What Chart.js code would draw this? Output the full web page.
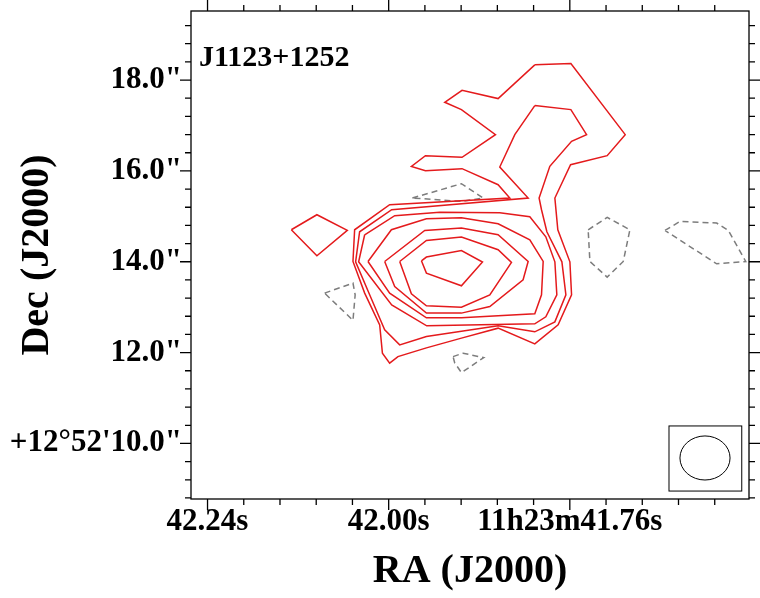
<!DOCTYPE html>
<html>
<head>
<meta charset="utf-8">
<title>J1123+1252</title>
<script src="https://cdn.jsdelivr.net/npm/chart.js@4.4.1/dist/chart.umd.min.js"></script>
<style>
  html, body { margin: 0; padding: 0; background: #fff; }
  canvas { display: block; }
</style>
</head>
<body>
<canvas id="map" width="760" height="598"></canvas>
<script>
// x = RA seconds after 11h23m, y = Dec arcsec after +12d52'
const raRange = [41.5226, 42.2619];
const decRange = [8.777, 19.52];
const raTicks = [42.24, 42.00, 41.76];
const raTickLabels = ['42.24s', '42.00s', '11h23m41.76s'];
const decTicks = [10, 12, 14, 16, 18];
const decTickLabels = ['+12°52\'10.0"', '12.0"', '14.0"', '16.0"', '18.0"'];
const raMinorStep = 0.048;
const decMinorStep = 0.4;

// positive contours (solid red), outermost first
const pos1 = [[41.8064,18.334],[41.7586,18.363],[41.6866,16.798],[41.7105,16.335],[41.7590,16.137],[41.7798,15.403],
  [41.7759,14.704],[41.7599,13.999],[41.7577,13.272],[41.7755,12.611],[41.8064,12.192],[41.8550,12.538],[41.9036,12.318],
  [41.9500,12.104],[41.9877,11.912],[41.9987,11.767],[42.0083,11.987],[42.0119,12.611],[42.0318,13.309],[42.0473,14.006],
  [42.0451,14.704],[41.9987,15.255],[41.8395,15.403],[41.8550,15.696],[41.9028,16.049],[41.9513,16.005],[41.9699,16.100],
  [41.9513,16.335],[41.9028,16.298],[41.8585,16.798],[41.9036,17.349],[41.9257,17.510],[41.9028,17.775],[41.8550,17.592]];
const pos2 = [[41.8064,17.437],[41.7586,17.349],[41.7378,16.798],[41.7577,16.651],[41.7865,16.100],[41.8007,15.403],
  [41.7975,15.145],[41.7904,14.660],[41.7705,13.999],[41.7652,13.272],[41.7798,12.677],[41.8064,12.457],[41.8550,12.589],
  [41.9500,12.353],[41.9854,12.170],[42.0053,12.500],[42.0252,13.272],[42.0438,13.999],[42.0385,14.660],[41.9960,15.145],
  [41.8152,15.403],[41.8528,16.086],[41.8329,16.798]];
const pos3 = [[42.0318,14.594],[41.9920,15.013],[41.9324,15.090],[41.8528,15.079],[41.8130,14.991],[41.7918,14.550],
  [41.7798,13.999],[41.7772,13.272],[41.7918,12.787],[41.8064,12.633],[41.9496,12.589],[41.9960,13.051],[42.0398,13.999]];
const pos4 = [[42.0274,14.006],[41.9964,14.704],[41.9500,14.947],[41.9036,14.969],[41.8550,14.837],[41.8130,14.484],
  [41.7953,14.006],[41.7975,13.272],[41.8064,12.853],[41.9036,12.765],[41.9500,12.765],[41.9987,13.309]];
const pos5 = [[42.0053,14.006],[41.9522,14.689],[41.9036,14.742],[41.8550,14.594],[41.8152,14.006],[41.8219,13.603],
  [41.8660,13.014],[41.9036,12.869],[41.9500,12.869],[41.9920,13.455]];
const pos6 = [[41.9854,14.006],[41.9500,14.469],[41.9036,14.544],[41.8550,14.264],[41.8373,13.984],[41.8660,13.272],
  [41.9036,13.001],[41.9500,13.029],[41.9699,13.294]];
const pos7 = [[41.9566,14.021],[41.9500,14.103],[41.9036,14.248],[41.8757,13.993],[41.9036,13.470],[41.9500,13.750]];
const posBlob = [[42.1290,14.704],[42.0951,15.035],[42.0548,14.689],[42.0951,14.131]];

// negative contours (dashed grey)
const neg1 = [[41.9686,15.403],[41.9036,15.718],[41.8749,15.403],[41.9036,15.328]];
const neg2 = [[42.0849,13.309],[42.0473,13.530],[42.0444,13.272],[42.0473,12.710]];
const neg3 = [[41.9147,11.912],[41.9014,11.987],[41.8740,11.890],[41.9036,11.560],[41.9125,11.773]];
const neg4 = [[41.7357,14.704],[41.7105,14.976],[41.6804,14.704],[41.6892,14.006],[41.7105,13.662],[41.7334,14.006]];
const neg5 = [[41.6339,14.689],[41.6140,14.887],[41.5654,14.852],[41.5500,14.689],[41.5269,14.006],[41.5654,13.955]];

// restoring beam: centre, half axes (RA s, Dec arcsec), and its box
const beamCenter = [41.5809, 9.680];
const beamHalfAxes = [0.0332, 0.485];
const beamBoxRa = [41.6286, 41.5322];
const beamBoxDec = [8.952, 10.385];

const sourceName = 'J1123+1252';

const serif = "'Liberation Serif', 'Times New Roman', serif";

const ring = (pts) => pts.concat([pts[0]]).map(p => ({x: p[0], y: p[1]}));

const contour = (pts, color, dash) => ({
    data: ring(pts),
    showLine: true,
    borderColor: color,
    borderWidth: 1.5,
    borderDash: dash,
    pointRadius: 0,
    fill: false,
    tension: 0
});

const red = 'rgb(228,26,28)';
const grey = 'rgb(125,125,125)';
const datasets = [pos1, pos2, pos3, pos4, pos5, pos6, pos7, posBlob].map(c => contour(c, red, []))
    .concat([neg1, neg2, neg3, neg4, neg5].map(c => contour(c, grey, [6, 4])));

// no extra room for half labels at the scale ends
const noEdgePad = (s) => {
    s.paddingTop = 0; s.paddingBottom = 0;
    s.paddingLeft = 0; s.paddingRight = 0;
};

const framePlugin = {
    id: 'frame',
    afterDraw(chart) {
        const {ctx, chartArea: a, scales: {x, y}} = chart;
        ctx.save();
        ctx.strokeStyle = '#000';
        ctx.lineWidth = 1.3;
        ctx.strokeRect(a.left, a.top, a.right - a.left, a.bottom - a.top);

        ctx.beginPath();
        for (let k = -20; k <= 20; k++) {
            const v = raTicks[0] - k * raMinorStep;
            if (v < raRange[0] || v > raRange[1]) continue;
            const len = k % 5 === 0 ? 11 : 6;
            const px = x.getPixelForValue(v);
            ctx.moveTo(px, a.bottom); ctx.lineTo(px, a.bottom + len);
            ctx.moveTo(px, a.top); ctx.lineTo(px, a.top - len);
        }
        for (let k = -10; k <= 40; k++) {
            const v = decTicks[0] + k * decMinorStep;
            if (v < decRange[0] || v > decRange[1]) continue;
            const len = k % 5 === 0 ? 11 : 6;
            const py = y.getPixelForValue(v);
            ctx.moveTo(a.left, py); ctx.lineTo(a.left - len, py);
            ctx.moveTo(a.right, py); ctx.lineTo(a.right + len, py);
        }
        ctx.stroke();

        // beam
        const bx0 = x.getPixelForValue(beamBoxRa[0]), bx1 = x.getPixelForValue(beamBoxRa[1]);
        const by0 = y.getPixelForValue(beamBoxDec[1]), by1 = y.getPixelForValue(beamBoxDec[0]);
        ctx.lineWidth = 1;
        ctx.strokeRect(bx0, by0, bx1 - bx0, by1 - by0);
        const cx = x.getPixelForValue(beamCenter[0]);
        const cy = y.getPixelForValue(beamCenter[1]);
        const rx = Math.abs(x.getPixelForValue(beamCenter[0] + beamHalfAxes[0]) - cx);
        const ry = Math.abs(y.getPixelForValue(beamCenter[1] + beamHalfAxes[1]) - cy);
        ctx.beginPath();
        ctx.ellipse(cx, cy, rx, ry, 0, 0, Math.PI * 2);
        ctx.stroke();

        // source name
        ctx.fillStyle = '#000';
        ctx.font = 'bold 30px ' + serif;
        ctx.textBaseline = 'alphabetic';
        ctx.textAlign = 'left';
        ctx.fillText(sourceName, a.left + 8, a.top + 55);
        ctx.restore();
    }
};

const config = {
    type: 'scatter',
    data: {datasets: datasets},
    options: {
        responsive: false,
        animation: false,
        layout: {padding: {top: 11, right: 11, left: 0, bottom: 0}},
        plugins: {legend: {display: false}, tooltip: {enabled: false}},
        scales: {
            x: {
                type: 'linear',
                reverse: true,
                min: raRange[0],
                max: raRange[1],
                grid: {display: false, drawTicks: false},
                border: {display: false},
                afterBuildTicks: (s) => { s.ticks = raTicks.map(v => ({value: v})); },
                afterFit: (s) => { s.height = 99; noEdgePad(s); },
                ticks: {
                    autoSkip: false,
                    maxRotation: 0,
                    padding: 4,
                    color: '#000',
                    font: {family: serif, size: 31, weight: 'bold'},
                    callback: (v, i) => raTickLabels[i]
                },
                title: {
                    display: true,
                    text: 'RA (J2000)',
                    color: '#000',
                    padding: {top: 0, bottom: 2},
                    font: {family: serif, size: 40, weight: 'bold'}
                }
            },
            y: {
                type: 'linear',
                min: decRange[0],
                max: decRange[1],
                grid: {display: false, drawTicks: false},
                border: {display: false},
                afterBuildTicks: (s) => { s.ticks = decTicks.map(v => ({value: v})); },
                afterFit: (s) => { s.width = 191; noEdgePad(s); },
                ticks: {
                    autoSkip: false,
                    padding: 9,
                    color: '#000',
                    font: {family: serif, size: 31, weight: 'bold'},
                    callback: (v, i) => decTickLabels[i]
                },
                title: {
                    display: true,
                    text: 'Dec (J2000)',
                    color: '#000',
                    padding: {top: 14, bottom: 0},
                    font: {family: serif, size: 40, weight: 'bold'}
                }
            }
        }
    },
    plugins: [framePlugin]
};

window.onload = function () {
    const ctx = document.querySelector('#map').getContext('2d');
    const chart = new Chart(ctx, config);
};
</script>
</body>
</html>
